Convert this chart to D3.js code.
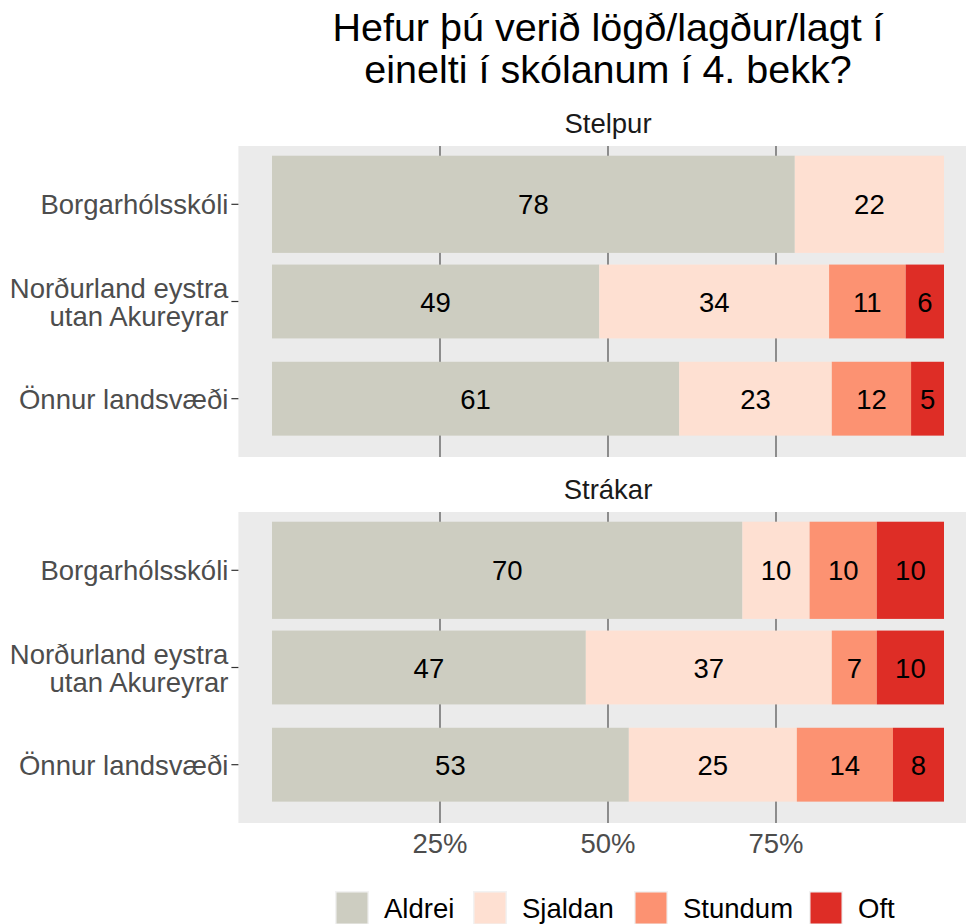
<!DOCTYPE html>
<html>
<head>
<meta charset="utf-8">
<script src="https://cdn.jsdelivr.net/npm/d3@7"></script>
<style>
  body { margin: 0; background: #fff; }
  svg text { font-family: 'Liberation Sans', Arial, sans-serif; }
</style>
</head>
<body>
<div id="chart"></div>
<script>
// data
var titleLines = ['Hefur þú verið lögð/lagður/lagt í', 'einelti í skólanum í 4. bekk?'];
var groups = ['Stelpur', 'Strákar'];
var schools = ['Borgarhólsskóli', 'Norðurland eystra\nutan Akureyrar', 'Önnur landsvæði'];
var answers = ['Aldrei', 'Sjaldan', 'Stundum', 'Oft'];
// percent per school, order of answers
var stelpurValues = [
  [77.8, 22.2, 0, 0],
  [48.7, 34.2, 11.4, 5.7],
  [60.6, 22.7, 11.8, 4.9]
];
var strakarValues = [
  [70.0, 10.0, 10.0, 10.0],
  [46.7, 36.6, 6.7, 10.0],
  [53.1, 25.0, 14.3, 7.6]
];
var xTicks = [0.25, 0.5, 0.75];

var groupValues = [stelpurValues, strakarValues];

// settings
var settings = {}
settings.colors = ['#CDCDC1', '#FEE0D2', '#FC9272', '#DE2D26']
settings.panel_bg = '#EBEBEB'
settings.grid_color = '#4D4D4D'
settings.axis_color = '#4D4D4D'
settings.font_size = 27.5
settings.title_size = 39.5
settings.bar_size = [1.0, 0.76, 0.76]   // thickness in category units
settings.legend_x = [335, 473, 634, 809] // left edge of each legend key

var width = 966, height = 924
var panelLeft = 238.4, panelRight = 977.6
var panels = [{top: 146, bottom: 457}, {top: 512, bottom: 823}]

var svg = d3.select('#chart').append('svg')
    .attr('width', width)
    .attr('height', height)

// x scale with ggplot-like 5% expansion
var x = d3.scaleLinear()
    .domain([-0.05, 1.05])
    .range([panelLeft, panelRight])

// title
svg.append('g').selectAll('text')
    .data(titleLines)
  .enter().append('text')
    .attr('x', x(0.5))
    .attr('y', function(d, i) { return 41 + i * 42 })
    .attr('text-anchor', 'middle')
    .attr('font-size', settings.title_size)
    .attr('fill', '#000')
    .text(function(d) { return d })

groups.forEach(function(g, gi) {
  var p = panels[gi]
  var y = d3.scaleLinear()
      .domain([0.4, schools.length + 0.6])
      .range([p.top, p.bottom])

  var panel = svg.append('g')

  // strip label
  panel.append('text')
      .attr('x', x(0.5))
      .attr('y', p.top - 13)
      .attr('text-anchor', 'middle')
      .attr('font-size', settings.font_size)
      .attr('fill', '#1A1A1A')
      .text(g)

  panel.append('rect')
      .attr('x', panelLeft)
      .attr('y', p.top)
      .attr('width', panelRight - panelLeft)
      .attr('height', p.bottom - p.top)
      .attr('fill', settings.panel_bg)

  // vertical grid lines
  panel.selectAll('.grid')
      .data(xTicks)
    .enter().append('line')
      .attr('x1', function(d) { return x(d) })
      .attr('x2', function(d) { return x(d) })
      .attr('y1', p.top)
      .attr('y2', p.bottom)
      .attr('stroke', settings.grid_color)
      .attr('stroke-width', 1.2)

  // stacked bars
  var rows = groupValues[gi].map(function(vals, si) {
    var cum = 0
    return vals.map(function(v, ai) {
      var seg = {school: si, answer: ai, x0: cum / 100, x1: (cum + v) / 100, value: v}
      cum += v
      return seg
    })
  })
  var segs = [].concat.apply([], rows).filter(function(d) { return d.value > 0 })

  panel.selectAll('.seg')
      .data(segs)
    .enter().append('rect')
      .attr('x', function(d) { return x(d.x0) })
      .attr('width', function(d) { return x(d.x1) - x(d.x0) })
      .attr('y', function(d) { return y(d.school + 1 - settings.bar_size[d.school] / 2) })
      .attr('height', function(d) { return y(settings.bar_size[d.school]) - y(0) })
      .attr('fill', function(d) { return settings.colors[d.answer] })

  panel.selectAll('.lbl')
      .data(segs)
    .enter().append('text')
      .attr('x', function(d) { return x((d.x0 + d.x1) / 2) })
      .attr('y', function(d) { return y(d.school + 1) + 10 })
      .attr('text-anchor', 'middle')
      .attr('font-size', settings.font_size)
      .attr('fill', '#000')
      .text(function(d) { return Math.round(d.value) })

  // y axis ticks + labels
  schools.forEach(function(s, si) {
    var cy = y(si + 1)
    panel.append('line')
        .attr('x1', panelLeft - 7)
        .attr('x2', panelLeft)
        .attr('y1', cy)
        .attr('y2', cy)
        .attr('stroke', '#333')
        .attr('stroke-width', 1.2)
    var lines = s.split('\n')
    var t = panel.append('text')
        .attr('text-anchor', 'end')
        .attr('font-size', settings.font_size)
        .attr('fill', settings.axis_color)
    lines.forEach(function(l, li) {
      t.append('tspan')
          .attr('x', panelLeft - 10)
          .attr('y', cy + 10 + (li - (lines.length - 1) / 2) * 28)
          .text(l)
    })
  })

  // x axis on bottom panel
  if (gi === groups.length - 1) {
    panel.selectAll('.xt')
        .data(xTicks)
      .enter().append('text')
        .attr('x', function(d) { return x(d) })
        .attr('y', p.bottom + 30)
        .attr('text-anchor', 'middle')
        .attr('font-size', settings.font_size)
        .attr('fill', settings.axis_color)
        .text(function(d) { return d3.format('.0%')(d) })
  }
})

// legend
var legend = svg.append('g')
answers.forEach(function(a, i) {
  var lx = settings.legend_x[i]
  legend.append('rect')
      .attr('x', lx)
      .attr('y', 891)
      .attr('width', 34)
      .attr('height', 34)
      .attr('fill', '#F2F2F2')
  legend.append('rect')
      .attr('x', lx + 1.5)
      .attr('y', 892.5)
      .attr('width', 31)
      .attr('height', 31)
      .attr('fill', settings.colors[i])
  legend.append('text')
      .attr('x', lx + 34 + 15)
      .attr('y', 918)
      .attr('font-size', settings.font_size)
      .attr('fill', '#000')
      .text(a)
})
</script>
</body>
</html>
